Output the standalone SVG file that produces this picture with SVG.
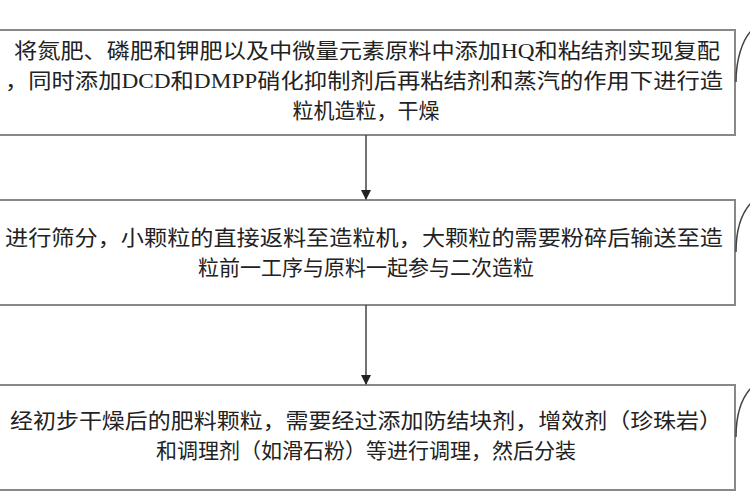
<svg xmlns="http://www.w3.org/2000/svg" width="750" height="500" viewBox="0 0 750 500">
<style>
.b{fill:#fff;stroke:#888;stroke-width:2}
.t{font-family:"Liberation Serif","Noto Sans CJK SC",serif;font-size:21px;fill:#222;text-anchor:middle}
.c{fill:none;stroke:#444;stroke-width:1.5}
</style>
<defs><marker id="a" markerWidth="10" markerHeight="10" refX="9" refY="5" orient="auto" markerUnits="userSpaceOnUse"><path d="M0,0L10,5L0,10z" fill="#222"/></marker></defs>
<rect width="750" height="500" fill="#fff"/>
<g id="n1"><rect class="b" x="-2" y="30" width="737" height="105"/>
<text class="t" x="367" y="58" textLength="706" lengthAdjust="spacingAndGlyphs">将氮肥、磷肥和钾肥以及中微量元素原料中添加HQ和粘结剂实现复配</text>
<text class="t" x="364" y="88" textLength="718" lengthAdjust="spacingAndGlyphs">，同时添加DCD和DMPP硝化抑制剂后再粘结剂和蒸汽的作用下进行造</text>
<text class="t" x="366" y="118">粒机造粒，干燥</text></g>
<g id="n2"><rect class="b" x="-2" y="200" width="737" height="105"/>
<text class="t" x="364" y="245" textLength="718" lengthAdjust="spacingAndGlyphs">进行筛分，小颗粒的直接返料至造粒机，大颗粒的需要粉碎后输送至造</text>
<text class="t" x="366" y="275">粒前一工序与原料一起参与二次造粒</text></g>
<g id="n3"><rect class="b" x="-2" y="385" width="737" height="105"/>
<text class="t" x="366" y="428" textLength="712" lengthAdjust="spacingAndGlyphs">经初步干燥后的肥料颗粒，需要经过添加防结块剂，增效剂（珍珠岩）</text>
<text class="t" x="366" y="458">和调理剂（如滑石粉）等进行调理，然后分装</text></g>
<g id="edges">
<line class="c" x1="366" y1="135" x2="366" y2="199" marker-end="url(#a)"/>
<line class="c" x1="366" y1="305" x2="366" y2="384" marker-end="url(#a)"/>
<path class="c" d="M736,82 C736,60 742,40 752,30"/>
<path class="c" d="M736,252 C736,230 742,212 752,202"/>
<path class="c" d="M736,437 C736,415 742,397 752,387"/>
</g>
</svg>
